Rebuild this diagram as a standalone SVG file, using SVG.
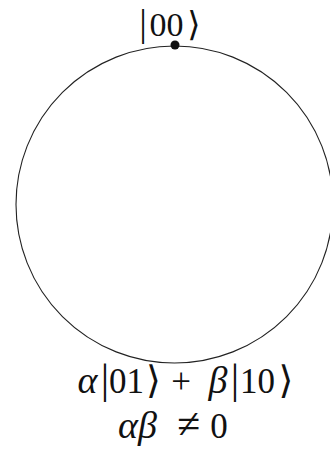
<svg xmlns="http://www.w3.org/2000/svg" width="330" height="451" viewBox="0 0 330 451">
<style>
.t{font-family:"Liberation Serif","Times New Roman",serif;font-size:35px;fill:#111;text-anchor:middle;}
.g{font-style:italic;font-size:38px;}
.bar{font-size:42px;}
.br{font-family:"DejaVu Serif",serif;font-size:38px;}
.ne{font-size:42px;}
.top{font-size:34px;}
.top .bar{font-size:38px;}
.top .br{font-size:34px;}
</style>
<rect width="330" height="451" fill="#fff"/>
<g id="circle"><circle cx="174.5" cy="204.5" r="158.5" fill="none" stroke="#222" stroke-width="1.1"/></g>
<g id="top-node">
<circle cx="175" cy="45" r="4.5" fill="#111"/>
<text class="t top" y="36"><tspan class="bar" x="143">|</tspan><tspan x="166.5">00</tspan><tspan class="br" x="194">⟩</tspan></text>
</g>
<g id="bottom-node">
<text class="t" y="393"><tspan class="g" x="87.5">α</tspan><tspan class="bar" x="105">|</tspan><tspan x="126.5">01</tspan><tspan class="br" x="153.5">⟩</tspan><tspan x="181"> + </tspan><tspan class="g" x="218">β</tspan><tspan class="bar" x="235">|</tspan><tspan x="257.5">10</tspan><tspan class="br" x="286">⟩</tspan></text>
<text class="t" y="438"><tspan class="g" x="137.5">αβ</tspan><tspan class="ne" x="188.5"> ≠ </tspan><tspan x="219">0</tspan></text>
</g>
</svg>
